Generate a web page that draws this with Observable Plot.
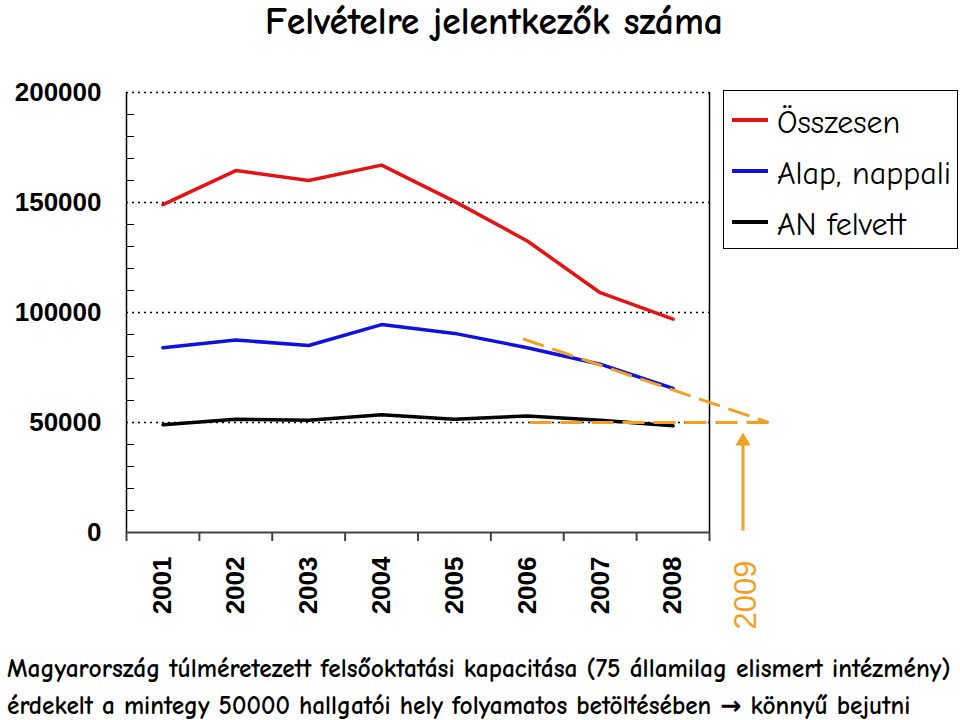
<!DOCTYPE html>
<html>
<head>
<meta charset="utf-8">
<script src="https://cdn.jsdelivr.net/npm/d3@7"></script>
<script src="https://cdn.jsdelivr.net/npm/@observablehq/plot@0.6"></script>
<style>
  html, body { margin: 0; padding: 0; background: white; }
  #wrap { position: relative; width: 960px; height: 720px; overflow: hidden; }
  #wrap svg { position: absolute; left: 0; top: 0; }
  .ov { position: absolute; white-space: nowrap; line-height: normal; transform: translateY(-50%);
        font-family: "Comic Sans MS", "Comic Neue", "DejaVu Sans", sans-serif; color: black; }
  .bold { font-weight: bold; }
  #legend { position: absolute; left: 723px; top: 90px; width: 235px; height: 159px; border: 1px solid black; box-sizing: border-box; }
  .lgline { position: absolute; height: 4px; width: 36px; transform: translateY(-50%); }
</style>
</head>
<body>
<div id="wrap"></div>
<script>
// ---- data ----
const years = [2001, 2002, 2003, 2004, 2005, 2006, 2007, 2008];
const osszesen = [149000, 164500, 160000, 167000, 150500, 132500, 109000, 97000];
const alapNappali = [84000, 87500, 85000, 94500, 90500, 84000, 76500, 65500];
const anFelvett = [49000, 51500, 51000, 53500, 51500, 53000, 51000, 48500];

// orange projection toward 2009
const trendAlapX = [2005.94, 2009.31];
const trendAlapY = [88000, 50000];
const trendFlatX = [2006.03, 2009.31];
const trendFlatY = [50000, 50000];
const arrowX = 2008.96;
const arrowFrom = 900;
const arrowTo = 41500;

const yLabels = [0, 50000, 100000, 150000, 200000];
const gridValues = [50000, 100000, 150000, 200000];
const minorTicks = d3.range(10000, 200000, 10000).filter(v => v % 50000 !== 0);
const bandEdges = [2000.5, 2001.5, 2002.5, 2003.5, 2004.5, 2005.5, 2006.5, 2007.5, 2008.5];
const extraYear = [2009];

const seriesNames = ["Összesen", "Alap, nappali", "AN felvett"];
const seriesColors = ["#e41414", "#1010e0", "#000000"];
const orange = "#f2a024";

const title = "Felvételre jelentkezők száma";
const footer1 = "Magyarország túlméretezett felsőoktatási kapacitása (75 államilag elismert intézmény)";
const footer2 = "érdekelt a mintegy 50000 hallgatói hely folyamatos betöltésében \u2192  könnyű bejutni";

// ---- tables ----
const toRows = vals => years.map((y, i) => ({year: y, value: vals[i]}));
const rowsO = toRows(osszesen), rowsA = toRows(alapNappali), rowsN = toRows(anFelvett);
const trendA = trendAlapX.map((x, i) => ({x, y: trendAlapY[i]}));
const trendF = trendFlatX.map((x, i) => ({x, y: trendFlatY[i]}));
const arrowRow = [{x: arrowX, y1: arrowFrom, y2: arrowTo}];

const bold = "bold";
const chart = Plot.plot({
  width: 960, height: 720,
  marginLeft: 126, marginRight: 251, marginTop: 92, marginBottom: 188,
  x: {type: "linear", domain: [2000.5, 2008.5], label: null},
  y: {domain: [0, 200000], label: null},
  style: {fontFamily: "'Liberation Sans', Arial, sans-serif", background: "transparent", overflow: "visible"},
  marks: [
    Plot.ruleY(gridValues, {stroke: "black", strokeDasharray: "2,4", strokeWidth: 1.3}),
    Plot.axisY({ticks: minorTicks, tickSize: -8, tickFormat: () => "", label: null, stroke: "black"}),
    Plot.axisY({ticks: yLabels, tickSize: 0, tickPadding: 25, fontSize: 26, fontWeight: bold, fill: "black",
                tickFormat: d => String(d), label: null}),
    Plot.ruleX([2000.5], {stroke: "black", strokeWidth: 1.5}),
    Plot.ruleX([2008.5], {stroke: "black", strokeWidth: 1.5}),
    Plot.ruleY([0], {stroke: "#444", strokeWidth: 2.2}),
    Plot.axisX({ticks: bandEdges, tickSize: 9, stroke: "#444", strokeWidth: 2, tickFormat: () => "", label: null}),
    Plot.axisX({ticks: years, tickSize: 0, tickPadding: 24, tickRotate: -90, fontSize: 26, fontWeight: bold,
                fill: "black", tickFormat: d => String(d), label: null}),
    Plot.axisX({ticks: extraYear, tickSize: 0, tickPadding: 28, tickRotate: -90, fontSize: 31,
                fill: orange, tickFormat: d => String(d), label: null}),
    Plot.line(rowsO, {x: "year", y: "value", stroke: seriesColors[0], strokeWidth: 3.5}),
    Plot.line(rowsA, {x: "year", y: "value", stroke: seriesColors[1], strokeWidth: 3.5}),
    Plot.line(rowsN, {x: "year", y: "value", stroke: seriesColors[2], strokeWidth: 3.5}),
    Plot.line(trendA, {x: "x", y: "y", stroke: orange, strokeWidth: 3, strokeDasharray: "22,9", strokeLinecap: "butt"}),
    Plot.line(trendF, {x: "x", y: "y", stroke: orange, strokeWidth: 3, strokeDasharray: "22,9", strokeLinecap: "butt"}),
    Plot.link(arrowRow, {x1: "x", x2: "x", y1: "y1", y2: "y2", stroke: orange, strokeWidth: 3}),
    Plot.dot(arrowRow, {x: "x", y: "y2", symbol: "triangle", r: 5.6, fill: orange, stroke: null})
  ]
});

const wrap = document.getElementById("wrap");
wrap.appendChild(chart);

function addText(txt, left, cy, size, target, cls) {
  const d = document.createElement("div");
  d.className = "ov " + (cls || "");
  d.textContent = txt;
  d.style.left = left + "px";
  d.style.top = cy + "px";
  d.style.fontSize = size + "px";
  wrap.appendChild(d);
  if (target) {
    const w = d.getBoundingClientRect().width;
    d.style.fontSize = (size * target / w) + "px";
  }
  return d;
}

addText(title, 265, 21, 28, 458, "bold");

// legend
const lg = document.createElement("div");
lg.id = "legend";
wrap.appendChild(lg);
const lgY = [120, 171, 222];
const lgWidest = 171; // "Alap, nappali" width in the reference
const lgEls = seriesNames.map((name, i) => {
  const l = document.createElement("div");
  l.className = "lgline";
  l.style.left = "732px";
  l.style.top = lgY[i] + "px";
  l.style.background = seriesColors[i];
  wrap.appendChild(l);
  return addText(name, 777, lgY[i] + 2, 28, null);
});
// one common size, set by the widest entry
const wMax = d3.max(lgEls, e => e.getBoundingClientRect().width);
const common = 28 * (lgWidest + 3) / wMax;
lgEls.forEach(e => e.style.fontSize = common + "px");

addText(footer1, 7, 668, 20, 944, "bold");
addText(footer2, 7, 705, 20, 904, "bold");
</script>
</body>
</html>
